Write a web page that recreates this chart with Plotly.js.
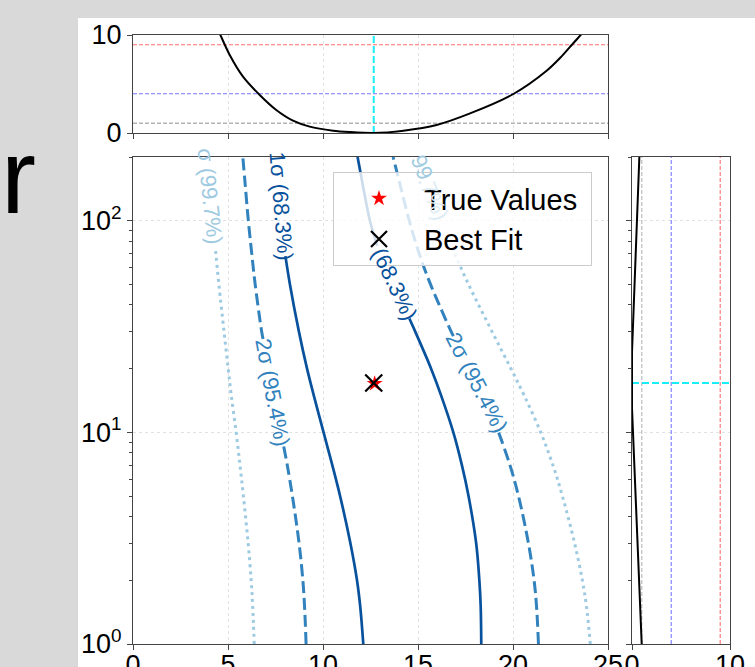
<!DOCTYPE html>
<html><head><meta charset="utf-8">
<script src="https://cdn.plot.ly/plotly-3.0.1.min.js"></script>
<style>html,body{margin:0;padding:0;background:#d9d9d9;}#chart{width:755px;height:667px;}</style>
</head><body><div id="chart"></div>
<script>
// ---------- data ----------
const rGrid     = [1, 1.5, 2, 3, 5, 7, 10, 15, 20, 30, 50, 70, 100, 150, 200];
const sig1Left  = [12.12, 11.96, 11.79, 11.44, 10.90, 10.49, 10.03, 9.51, 9.16, 8.73, 8.26, 8.00, 7.79, 7.64, 7.56];
const sig1Right = [18.33, 18.30, 18.23, 18.06, 17.66, 17.31, 16.86, 16.21, 15.69, 14.85, 13.74, 12.97, 12.47, 12.08, 11.82];
const sig2Left  = [9.11, 9.03, 8.94, 8.74, 8.39, 8.12, 7.79, 7.41, 7.13, 6.77, 6.43, 6.25, 6.07, 5.90, 5.78];
const sig2Right = [21.34, 21.24, 21.11, 20.81, 20.29, 19.84, 19.24, 18.38, 17.70, 16.74, 15.66, 15.06, 14.54, 14.04, 13.69];
const sig3Left  = [6.38, 6.30, 6.22, 6.06, 5.81, 5.63, 5.43, 5.17, 5.01, 4.79, 4.52, 4.36, 4.21, 4.05, 3.96];
const sig3Right = [24.07, 23.87, 23.65, 23.24, 22.60, 22.10, 21.46, 20.58, 19.89, 18.89, 17.66, 16.93, 16.24, 15.50, 14.95];

const trueX = [12.72], trueR = [17.0];
const bestX = [12.67], bestR = [17.1];

const profX   = [4.3, 4.6, 5.09, 5.79, 6.67, 7.54, 8.42, 9.3, 10.53, 11.4, 12.67, 14.23, 15.98, 17.74, 20.02, 21.77, 22.5, 23.09, 23.56, 23.9];
const profChi = [11.3, 10.0, 7.96, 5.75, 3.88, 2.35, 1.26, 0.65, 0.24, 0.10, 0.0, 0.24, 0.82, 2.0, 3.98, 6.35, 7.7, 8.98, 10.0, 10.7];

const profR    = [1, 2, 5, 10, 13, 17.1, 24, 50, 100, 200];
const profRChi = [0.99, 0.72, 0.37, 0.10, 0.0, 0.0, 0.0, 0.26, 0.50, 0.75];

const deltaLevels = [1, 4, 9];
const xTicks = [0, 5, 10, 15, 20, 25];
const yTicks = [1, 10, 100];
const yTickText = ['10<sup>0</sup>', '10<sup>1</sup>', '10<sup>2</sup>'];
const yMinor = [2,3,4,5,6,7,8,9,20,30,40,50,60,70,80,90,200];
const chiTicks = [0, 10];
const sideTicks = [0, 10];

// ---------- helpers ----------
const FONT = 'Liberation Sans, Arial, sans-serif';
const L = v => Math.log10(v);
function interpX(xs, rs, rv) {
  for (let i = 0; i < rs.length - 1; i++) {
    if (rv >= rs[i] && rv <= rs[i+1]) {
      const t = (L(rv) - L(rs[i])) / (L(rs[i+1]) - L(rs[i]));
      return xs[i] + t * (xs[i+1] - xs[i]);
    }
  }
  return null;
}
function withGap(xs, rs, lo, hi) {
  const X = [], Y = [];
  const rmax = rs[rs.length-1];
  for (let i = 0; i < rs.length; i++) if (rs[i] < lo) { X.push(xs[i]); Y.push(rs[i]); }
  if (lo < rmax) { X.push(interpX(xs, rs, lo)); Y.push(lo); }
  X.push(null); Y.push(null);
  if (hi < rmax) {
    X.push(interpX(xs, rs, hi)); Y.push(hi);
    for (let i = 0; i < rs.length; i++) if (rs[i] > hi) { X.push(xs[i]); Y.push(rs[i]); }
  }
  return {X, Y};
}

const C1 = '#08519c', C2 = '#3182bd', C3 = '#9ecae1';
const contours = [
  {xs: sig1Left,  gap: [68, 300],   color: C1, width: 2.7, dash: 'solid'},
  {xs: sig1Right, gap: [34.5, 76],  color: C1, width: 2.7, dash: 'solid'},
  {xs: sig2Left,  gap: [8.6, 27.6], color: C2, width: 3,   dash: '12px,5px'},
  {xs: sig2Right, gap: [10.3, 28.5],color: C2, width: 3,   dash: '12px,5px'},
  {xs: sig3Left,  gap: [72, 300],   color: C3, width: 3,   dash: '3px,4px'},
  {xs: sig3Right, gap: [73, 300],   color: C3, width: 3,   dash: '3px,4px'}
];

const traces = [];
contours.forEach(c => {
  const g = withGap(c.xs, rGrid, c.gap[0], c.gap[1]);
  traces.push({x: g.X, y: g.Y, xaxis: 'x', yaxis: 'y', mode: 'lines', showlegend: false,
    connectgaps: false, hoverinfo: 'skip',
    line: {color: c.color, width: c.width, dash: c.dash, shape: 'spline', smoothing: 1.0}});
});
traces.push({x: trueX, y: trueR, xaxis: 'x', yaxis: 'y', mode: 'markers', name: 'True Values\u00a0',
  marker: {symbol: 'star', color: 'red', size: 12}});
traces.push({x: bestX, y: bestR, xaxis: 'x', yaxis: 'y', mode: 'markers', name: 'Best Fit',
  marker: {symbol: 'x-thin', size: 17, color: 'black', line: {color: 'black', width: 2.2}}});

const levelColors = ['rgba(150,150,150,0.7)', 'rgba(60,60,255,0.7)', 'rgba(255,50,50,0.7)'];
const xRange = [0, 25], chiRange = [0, 10], rRange = [1, 200];
deltaLevels.forEach((lv, i) => {
  traces.push({x: xRange, y: [lv, lv], xaxis: 'x2', yaxis: 'y2', mode: 'lines', showlegend: false,
    hoverinfo: 'skip', line: {color: levelColors[i], width: i === 0 ? 1.6 : 1.1, dash: '4px,2px'}});
  traces.push({x: [lv, lv], y: rRange, xaxis: 'x3', yaxis: 'y3', mode: 'lines', showlegend: false,
    hoverinfo: 'skip', line: {color: levelColors[i], width: 1.1, dash: '4px,2px'}});
});
traces.push({x: [bestX[0], bestX[0]], y: chiRange, xaxis: 'x2', yaxis: 'y2', mode: 'lines', showlegend: false,
  hoverinfo: 'skip', line: {color: 'rgba(0,235,245,0.9)', width: 2, dash: '7px,3px'}});
traces.push({x: [0, 10], y: [bestR[0], bestR[0]], xaxis: 'x3', yaxis: 'y3', mode: 'lines', showlegend: false,
  hoverinfo: 'skip', line: {color: 'rgba(0,235,245,0.9)', width: 2, dash: '7px,3px'}});
traces.push({x: profX, y: profChi, xaxis: 'x2', yaxis: 'y2', mode: 'lines', showlegend: false,
  hoverinfo: 'skip', line: {color: 'black', width: 2, shape: 'spline', smoothing: 0.8}});
traces.push({x: profRChi, y: profR, xaxis: 'x3', yaxis: 'y3', mode: 'lines', showlegend: false,
  hoverinfo: 'skip', line: {color: 'black', width: 2}});

// ---------- layout ----------
const W = 755, H = 667;
const tickFont = {family: FONT, size: 27, color: '#000'};
const ax = {showline: true, mirror: true, linecolor: '#444', linewidth: 1, ticks: 'outside',
  ticklen: 5, tickwidth: 1, tickcolor: '#444', zeroline: false, showgrid: true,
  gridcolor: '#e2e2e2', griddash: 'dot', gridwidth: 1, tickfont: tickFont, fixedrange: true};
const minor = {ticks: 'outside', ticklen: 3, tickwidth: 1, tickcolor: '#444', tickmode: 'array',
  tickvals: yMinor, showgrid: false};
const mainXDom = [133/W, 608/W], mainYDom = [23/H, 510/H];

function lbl(text, px, py, angle, color) {
  return {xref: 'x', yref: 'y', x: (px - 133) / 19, y: (644 - py) / 211, text: text, textangle: angle,
    showarrow: false, xanchor: 'center', yanchor: 'middle', font: {family: FONT, size: 22, color: color}};
}

const layout = {
  width: W, height: H, margin: {l: 0, r: 0, t: 0, b: 0},
  paper_bgcolor: '#d9d9d9', plot_bgcolor: 'white',
  font: {family: FONT, color: '#000'},
  xaxis:  Object.assign({}, ax, {domain: mainXDom, range: xRange, tickmode: 'array', tickvals: xTicks,
            anchor: 'y', ticklabelstandoff: -8}),
  yaxis:  Object.assign({}, ax, {domain: mainYDom, type: 'log', range: [0, Math.log10(200)], tickmode: 'array',
            tickvals: yTicks, ticktext: yTickText, anchor: 'x', minor: minor}),
  xaxis2: Object.assign({}, ax, {domain: mainXDom, range: xRange, tickmode: 'array', tickvals: xTicks,
            showticklabels: false, anchor: 'y2'}),
  yaxis2: Object.assign({}, ax, {domain: [534/H, 632/H], range: chiRange, tickmode: 'array', tickvals: chiTicks, anchor: 'x2'}),
  xaxis3: Object.assign({}, ax, {domain: [632/W, 730/W], range: [0, 10], tickmode: 'array', tickvals: sideTicks,
            anchor: 'y3', ticklabelstandoff: -8}),
  yaxis3: Object.assign({}, ax, {domain: mainYDom, type: 'log', range: [0, Math.log10(200)], tickmode: 'array',
            tickvals: yTicks, showticklabels: false, anchor: 'x3', minor: minor}),
  showlegend: true,
  legend: {x: 333/W, y: (H - 172)/H, xanchor: 'left', yanchor: 'top', bgcolor: 'rgba(255,255,255,0.8)',
    bordercolor: '#cccccc', borderwidth: 1, font: {family: FONT, size: 29, color: '#000'}, itemwidth: 80},
  shapes: [{type: 'rect', xref: 'paper', yref: 'paper', x0: 78/W, x1: 1, y0: 0, y1: (H - 18)/H,
    fillcolor: 'white', line: {width: 0}, layer: 'below'}],
  annotations: [
    {xref: 'paper', yref: 'paper', x: 18/W, y: (H - 176)/H, text: 'r', showarrow: false,
      xanchor: 'center', yanchor: 'middle', font: {family: FONT, size: 105, color: '#000'}},
    lbl('1σ (68.3%)', 281, 207, 85.5, C1),
    lbl('2σ (95.4%)', 272.5, 393.3, 79.4, C2),
    lbl('σ (99.7%)', 209.8, 198, 84, C3),
    lbl('(68.3%)', 394, 285, 64.7, C1),
    lbl('2σ (95.4%)', 476.5, 383.5, 62.7, C2),
    lbl('99', 421.5, 168, 67, C3),
    lbl('.7%)', 433, 199, 67, '#dcebf4')
  ]
};

Plotly.newPlot('chart', traces, layout, {displayModeBar: false, staticPlot: true});
</script>
</body></html>
